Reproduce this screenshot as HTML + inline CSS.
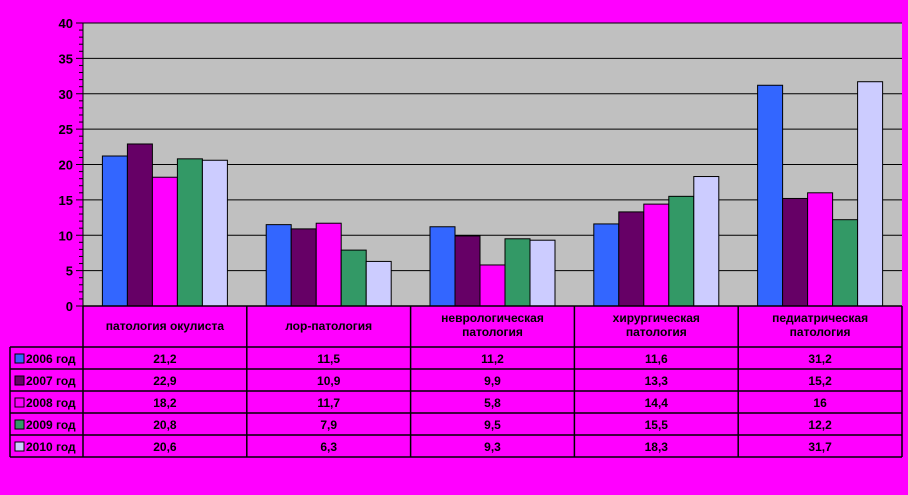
<!DOCTYPE html>
<html><head><meta charset="utf-8"><style>
body{margin:0;background:#ff00ff;}
svg{display:block;font-family:"Liberation Sans",sans-serif;font-weight:bold;}
</style></head><body>
<svg width="908" height="495" viewBox="0 0 908 495" xmlns="http://www.w3.org/2000/svg" id="c"></svg>
<script>
const categories=[["патология окулиста"],["лор-патология"],["неврологическая","патология"],["хирургическая","патология"],["педиатрическая","патология"]];
const seriesNames=["2006 год","2007 год","2008 год","2009 год","2010 год"];
const s2006=[21.2,11.5,11.2,11.6,31.2];
const s2007=[22.9,10.9,9.9,13.3,15.2];
const s2008=[18.2,11.7,5.8,14.4,16];
const s2009=[20.8,7.9,9.5,15.5,12.2];
const s2010=[20.6,6.3,9.3,18.3,31.7];
const yTicks=[0,5,10,15,20,25,30,35,40];
const colors=["#3366ff","#660066","#ff00ff","#339966","#ccccff"];
const series=[s2006,s2007,s2008,s2009,s2010];
const svg=document.getElementById('c');const NS="http://www.w3.org/2000/svg";
function mk(t,a,p){const e=document.createElementNS(NS,t);for(const k in a)e.setAttribute(k,a[k]);(p||svg).appendChild(e);return e;}
const X0=83,X1=902,Y0=306,Y1=23,TL=10;
const cw=(X1-X0)/categories.length;
const y=v=>Y0-(v/40)*(Y0-Y1);
const bg=mk('rect',{x:X0,y:Y1,width:X1-X0,height:Y0-Y1,fill:"#c0c0c0"});

yTicks.forEach(t=>{
 if(t>0){const g=mk('line',{x1:X0,x2:X1,y1:y(t),y2:y(t),stroke:"#000","stroke-width":1});
 }
 const tx=mk('text',{x:X0-10,y:y(t)+5,"text-anchor":"end","font-size":13,fill:"#000"});tx.textContent=t;
 
 mk('line',{x1:X0-7,x2:X0,y1:y(t),y2:y(t),stroke:"#000"});
});
for(let i=1;i<40;i++){if(i%5)mk('line',{x1:X0-4,x2:X0,y1:y(i),y2:y(i),stroke:"#000"});}
const bw=25,off=(cw-bw*5)/2;
series.forEach((s,si)=>s.forEach((v,ci)=>{
 const r=mk('rect',{x:X0+ci*cw+off+si*bw,y:y(v),width:bw,height:Y0-y(v),fill:colors[si],stroke:"#000","stroke-width":1});
 
}));
mk('line',{x1:X0,x2:X0,y1:Y1,y2:Y0,stroke:"#000"});
// table
const rowTop=347,rh=22;
const tb=mk('g',{});
const L={stroke:"#000","stroke-width":1.5};
mk('line',Object.assign({x1:X0,x2:X1,y1:Y0,y2:Y0},L),tb);
for(let r=0;r<=5;r++)mk('line',Object.assign({x1:TL,x2:X1,y1:rowTop+r*rh,y2:rowTop+r*rh},L),tb);
mk('line',Object.assign({x1:TL,x2:TL,y1:rowTop,y2:rowTop+5*rh},L),tb);
for(let c=0;c<=5;c++)mk('line',Object.assign({x1:X0+c*cw,x2:X0+c*cw,y1:Y0,y2:rowTop+5*rh},L),tb);
categories.forEach((lines,ci)=>{
 lines.forEach((ln,li)=>{const t=mk('text',{x:X0+ci*cw+cw/2,y:(lines.length==1?330:322)+li*14,"text-anchor":"middle","font-size":12},tb);t.textContent=ln;
 });
});
series.forEach((s,si)=>{
 const cy=rowTop+si*rh+rh/2;
 mk('rect',{x:15,y:cy-4,width:9,height:9,fill:colors[si],stroke:"#000"},tb);
 const n=mk('text',{x:26,y:cy+5,"font-size":12},tb);n.textContent=seriesNames[si];
 
 s.forEach((v,ci)=>{const t=mk('text',{x:X0+ci*cw+cw/2,y:cy+5,"text-anchor":"middle","font-size":12},tb);t.textContent=String(v).replace('.',',');
 });
});
</script>
</body></html>
